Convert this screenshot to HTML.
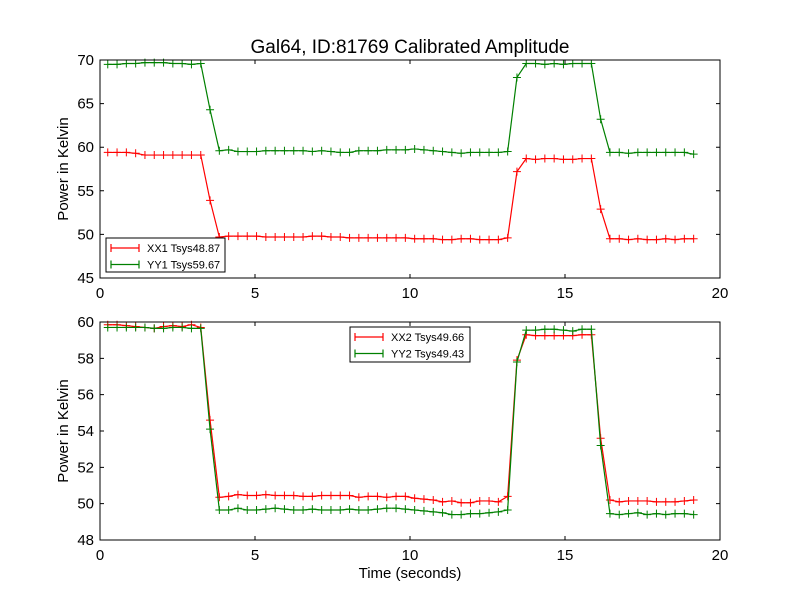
<!DOCTYPE html>
<html><head><meta charset="utf-8"><style>
body{margin:0;background:#fff}
svg{display:block;font-family:"Liberation Sans","DejaVu Sans",sans-serif}
</style></head><body>
<svg id="chart" width="800" height="600" viewBox="0 0 800 600">
<rect x="0" y="0" width="800" height="600" fill="#fff"/>
<text x="410" y="53" font-size="19" text-anchor="middle">Gal64, ID:81769 Calibrated Amplitude</text>
<g id="top"></g>
<g id="bot"></g>
<text x="410" y="578" font-size="15" text-anchor="middle">Time (seconds)</text>
</svg>
<script>
const times=[0.25,0.55,0.85,1.15,1.45,1.75,2.05,2.35,2.65,2.95,3.25,3.55,3.85,4.15,4.45,4.75,5.05,5.35,5.65,5.95,6.25,6.55,6.85,7.15,7.45,7.75,8.05,8.35,8.65,8.95,9.25,9.55,9.85,10.15,10.45,10.75,11.05,11.35,11.65,11.95,12.25,12.55,12.85,13.15,13.45,13.75,14.05,14.35,14.65,14.95,15.25,15.55,15.85,16.15,16.45,16.75,17.05,17.35,17.65,17.95,18.25,18.55,18.85,19.15];
const xx1=[59.4,59.4,59.4,59.3,59.1,59.1,59.1,59.1,59.1,59.1,59.1,53.9,
49.7,49.8,49.8,49.8,49.8,49.7,49.7,49.7,49.7,49.7,49.8,49.8,49.7,49.7,49.6,49.6,49.6,49.6,49.6,49.6,49.6,49.5,49.5,49.5,49.4,49.4,49.5,49.5,49.4,49.4,49.4,49.6,
57.2,58.7,58.6,58.7,58.7,58.6,58.6,58.7,58.7,52.9,
49.5,49.5,49.4,49.5,49.4,49.4,49.5,49.4,49.5,49.5];
const yy1=[69.5,69.5,69.6,69.6,69.7,69.7,69.7,69.6,69.6,69.5,69.6,64.3,
59.6,59.7,59.5,59.5,59.5,59.6,59.6,59.6,59.6,59.6,59.5,59.6,59.5,59.4,59.4,59.6,59.6,59.6,59.7,59.7,59.7,59.8,59.7,59.6,59.5,59.4,59.3,59.4,59.4,59.4,59.4,59.5,
68.0,69.6,69.6,69.5,69.6,69.5,69.6,69.6,69.6,63.2,
59.4,59.4,59.3,59.4,59.4,59.4,59.4,59.4,59.4,59.2];
const xx2=[59.85,59.85,59.8,59.75,59.7,59.65,59.75,59.8,59.75,59.85,59.7,54.6,
50.35,50.4,50.5,50.45,50.45,50.5,50.45,50.45,50.45,50.4,50.4,50.45,50.45,50.45,50.45,50.35,50.4,50.4,50.35,50.4,50.4,50.3,50.25,50.2,50.1,50.15,50.05,50.05,50.15,50.15,50.1,50.4,
57.9,59.3,59.25,59.25,59.25,59.25,59.25,59.3,59.3,53.6,
50.2,50.1,50.15,50.15,50.15,50.1,50.1,50.1,50.15,50.2];
const yy2=[59.7,59.7,59.7,59.7,59.7,59.65,59.65,59.7,59.7,59.65,59.65,54.1,
49.65,49.65,49.75,49.65,49.65,49.7,49.75,49.7,49.65,49.65,49.7,49.65,49.65,49.65,49.7,49.65,49.65,49.7,49.75,49.75,49.7,49.65,49.6,49.55,49.5,49.4,49.4,49.45,49.45,49.5,49.55,49.65,
57.8,59.55,59.55,59.6,59.6,59.55,59.5,59.6,59.6,53.2,
49.45,49.4,49.45,49.5,49.4,49.45,49.4,49.45,49.45,49.4];
const xTicks=[0,5,10,15,20];
const topYTicks=[45,50,55,60,65,70];
const botYTicks=[48,50,52,54,56,58,60];
const topLegend=["XX1 Tsys48.87","YY1 Tsys59.67"];
const botLegend=["XX2 Tsys49.66","YY2 Tsys49.43"];

const NS="http://www.w3.org/2000/svg";
function mk(tag,attrs,parent){const e=document.createElementNS(NS,tag);for(const k in attrs)e.setAttribute(k,attrs[k]);parent.appendChild(e);return e;}

function panel(g,top,bottom,ymin,ymax,yTicks,series,colors,legend,legBox){
  const L=100,R=720;
  const xs=v=>L+(v-0)/(20-0)*(R-L);
  const ys=v=>bottom-(v-ymin)/(ymax-ymin)*(bottom-top);
  // series
  series.forEach((s,si)=>{
    const pts=s.map((v,i)=>xs(times[i]).toFixed(2)+","+ys(v).toFixed(2)).join(" ");
    const pl=mk("polyline",{points:pts,fill:"none",stroke:colors[si],"stroke-width":1.2},g);
    
    
    let d="";
    s.forEach((v,i)=>{const x=xs(times[i]),y=ys(v);d+=`M${x-4},${y}H${x+4}M${x},${y-4}V${y+4}`;});
    const mp=mk("path",{d:d,stroke:colors[si],"stroke-width":1,fill:"none"},g);
    
    
  });
  // frame
  const fr=mk("rect",{x:L,y:top,width:R-L,height:bottom-top,fill:"none",stroke:"#000","stroke-width":1},g);
  
  
  xTicks.forEach(t=>{
    const x=xs(t);
    const tk=mk("path",{d:`M${x},${bottom}V${bottom-4}M${x},${top}V${top+4}`,stroke:"#000"},g);
    
    
    const tx=mk("text",{x:x,y:bottom+20,"font-size":15,"text-anchor":"middle"},g);
    tx.textContent=t;
    
    
  });
  yTicks.forEach(t=>{
    const y=ys(t);
    const tk=mk("path",{d:`M${L},${y}H${L+4}M${R},${y}H${R-4}`,stroke:"#000"},g);
    
    
    const tx=mk("text",{x:L-6,y:y+5,"font-size":15,"text-anchor":"end"},g);
    tx.textContent=t;
    
    
  });
  const yt=mk("text",{x:0,y:0,"font-size":15,"text-anchor":"middle",transform:`translate(68,${(top+bottom)/2}) rotate(-90)`},g);
  yt.textContent="Power in Kelvin";
  
  
  // legend
  const lg=mk("g",{},g);
  
  
  mk("rect",{x:legBox[0],y:legBox[1],width:legBox[2],height:legBox[3],fill:"#fff",stroke:"#000","stroke-width":1},lg);
  legend.forEach((lab,i)=>{
    const y=legBox[1]+10+i*16.5;
    const x0=legBox[0]+5;
    const ln=mk("path",{d:`M${x0},${y}H${x0+28}M${x0+4},${y}h0M${x0},${y-4}V${y+4}M${x0+28},${y-4}V${y+4}`,stroke:colors[i],"stroke-width":1.2},lg);
    
    
    const tx=mk("text",{x:x0+36,y:y+4,"font-size":11},lg);
    tx.textContent=lab;
    
    
  });
}
panel(document.getElementById("top"),60,278,45,70,topYTicks,[xx1,yy1],["#ff0000","#008000"],topLegend,[106,238,119,34]);
panel(document.getElementById("bot"),322,540,48,60,botYTicks,[xx2,yy2],["#ff0000","#008000"],botLegend,[350,327,120,35]);
</script>
</body></html>
